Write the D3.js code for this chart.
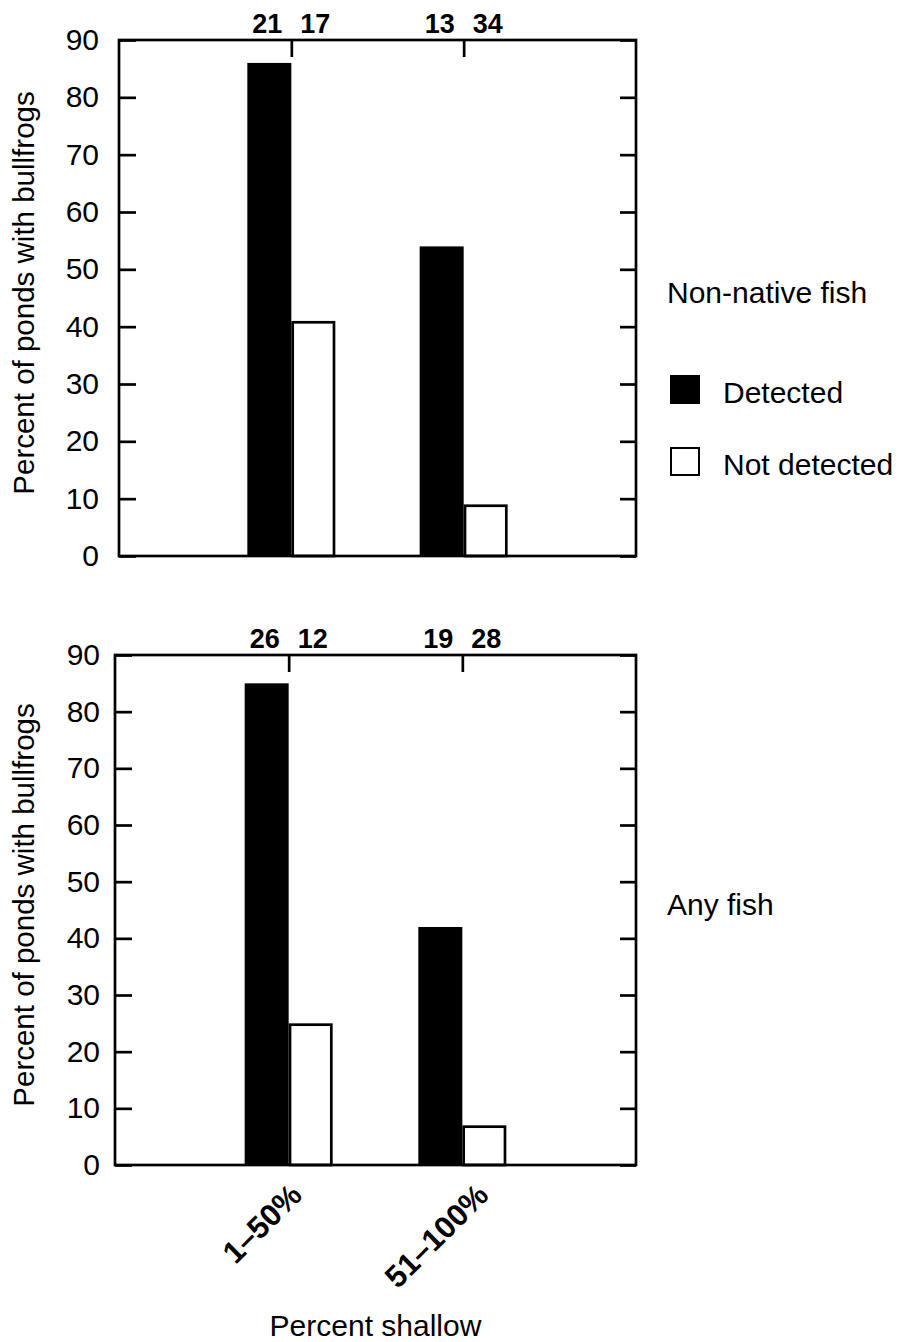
<!DOCTYPE html>
<html>
<head>
<meta charset="utf-8">
<script src="https://cdn.jsdelivr.net/npm/d3@7"></script>
<style>
html,body{margin:0;padding:0;background:#fff;}
svg{display:block;font-family:"Liberation Sans",Arial,Helvetica,sans-serif;}
</style>
</head>
<body>
<svg id="chart" width="902" height="1342"></svg>
<script>
// ---- data ----
const categories = ["1\u201350%", "51\u2013100%"];
const seriesNames = ["Detected", "Not detected"];
const panelTitles = ["Non-native fish", "Any fish"];
// percent of ponds with bullfrogs, [category][series]
const nonNativeDetected = [86, 54];
const nonNativeNotDetected = [41, 9];
const anyDetected = [85, 42];
const anyNotDetected = [25, 7];
// sample sizes shown above each bar
const nonNativeN = [[21, 17], [13, 34]];
const anyN = [[26, 12], [19, 28]];
const yTicks = [0, 10, 20, 30, 40, 50, 60, 70, 80, 90];
const yLabel = "Percent of ponds with bullfrogs";
const xLabel = "Percent shallow";

// ---- layout ----
const catLabelNudge = [15, 28];
const panels = [
  {det: nonNativeDetected, nd: nonNativeNotDetected, n: nonNativeN, title: panelTitles[0],
   left: 119, right: 636, top: 40, bottom: 556, labelX: 99, titleY: 303, legend: true},
  {det: anyDetected, nd: anyNotDetected, n: anyN, title: panelTitles[1],
   left: 115, right: 636, top: 655, bottom: 1165, labelX: 100, titleY: 915, legend: false}
];

const svg = d3.select("#chart");
const SW = 2.7;
const fontReg = "30px";

panels.forEach((p, pi) => {
  const g = svg.append("g");
  const y = d3.scaleLinear().domain([0, 90]).range([p.bottom, p.top]);
  const x = d3.scalePoint().domain(categories).range([p.left, p.right]).padding(1);
  const sub = d3.scaleBand().domain(seriesNames).range([-44, 44]).paddingInner(0);

  // bars
  categories.forEach((c, ci) => {
    const vals = [p.det[ci], p.nd[ci]];
    seriesNames.forEach((s, si) => {
      const x0 = x(c) + sub(s);
      g.append("rect")
        .attr("x", x0 + (si === 1 ? SW / 2 : 0))
        .attr("y", y(vals[si]) + (si === 1 ? SW / 2 : 0))
        .attr("width", sub.bandwidth() - (si === 1 ? SW : 0))
        .attr("height", y(0) - y(vals[si]) - (si === 1 ? SW / 2 : 0))
        .attr("fill", si === 0 ? "#000" : "#fff")
        .attr("stroke", si === 1 ? "#000" : "none")
        .attr("stroke-width", SW);
      // sample size label
      g.append("text")
        .attr("x", x0 + sub.bandwidth() / 2 + (si === 0 ? -2 : 2))
        .attr("y", p.top - 7)
        .attr("text-anchor", "middle")
        .attr("font-weight", "bold")
        .attr("font-size", "27px")
        .text(p.n[ci][si]);
    });
  });

  // frame
  g.append("rect")
    .attr("x", p.left).attr("y", p.top)
    .attr("width", p.right - p.left).attr("height", p.bottom - p.top)
    .attr("fill", "none").attr("stroke", "#000").attr("stroke-width", SW);

  // left axis (inward ticks)
  const la = g.append("g").attr("transform", `translate(${p.left},0)`)
    .call(d3.axisLeft(y).tickValues(yTicks).tickSize(-17).tickPadding(0));
  la.select(".domain").remove();
  la.selectAll(".tick line").attr("stroke", "#000").attr("stroke-width", SW);
  la.selectAll(".tick text").attr("font-size", fontReg).attr("font-family", null)
    .attr("x", p.labelX - p.left).attr("fill", "#000");

  // right axis (inward ticks)
  const ra = g.append("g").attr("transform", `translate(${p.right},0)`)
    .call(d3.axisRight(y).tickValues(yTicks).tickSize(-16));
  ra.select(".domain").remove();
  ra.selectAll(".tick text").remove();
  ra.selectAll(".tick line").attr("stroke", "#000").attr("stroke-width", SW);

  // top axis (inward ticks at categories)
  const ta = g.append("g").attr("transform", `translate(0,${p.top})`)
    .call(d3.axisTop(x).tickSize(-17));
  ta.select(".domain").remove();
  ta.selectAll(".tick text").remove();
  ta.selectAll(".tick line").attr("stroke", "#000").attr("stroke-width", SW);

  // y label
  const cy = (p.top + p.bottom) / 2 - 5;
  g.append("text")
    .attr("transform", `translate(34,${cy}) rotate(-90)`)
    .attr("text-anchor", "middle")
    .attr("font-size", "29.5px")
    .text(yLabel);

  // panel title
  g.append("text").attr("x", 667).attr("y", p.titleY)
    .attr("font-size", fontReg).text(p.title);

  // legend
  if (p.legend) {
    seriesNames.forEach((s, si) => {
      const ly = 375 + si * 72;
      g.append("rect")
        .attr("x", 670 + (si === 1 ? 1 : 0)).attr("y", ly + (si === 1 ? 1 : 0))
        .attr("width", 30 - (si === 1 ? 2 : 0)).attr("height", 29 - (si === 1 ? 2 : 0))
        .attr("fill", si === 0 ? "#000" : "#fff")
        .attr("stroke", si === 1 ? "#000" : "none").attr("stroke-width", 2);
      g.append("text").attr("x", 723).attr("y", ly + 28)
        .attr("font-size", fontReg).text(s);
    });
  }

  // category labels on bottom panel
  if (pi === 1) {
    categories.forEach((c, ci) => {
      g.append("text")
        .attr("transform", `translate(${x(c) + catLabelNudge[ci]},${p.bottom + 32}) rotate(-45)`)
        .attr("text-anchor", "end")
        .attr("font-weight", "bold")
        .attr("font-size", "31px")
        .text(c);
    });
    g.append("text").attr("x", (p.left + p.right) / 2).attr("y", 1336)
      .attr("text-anchor", "middle").attr("font-size", fontReg).text(xLabel);
  }
});
</script>
</body>
</html>
